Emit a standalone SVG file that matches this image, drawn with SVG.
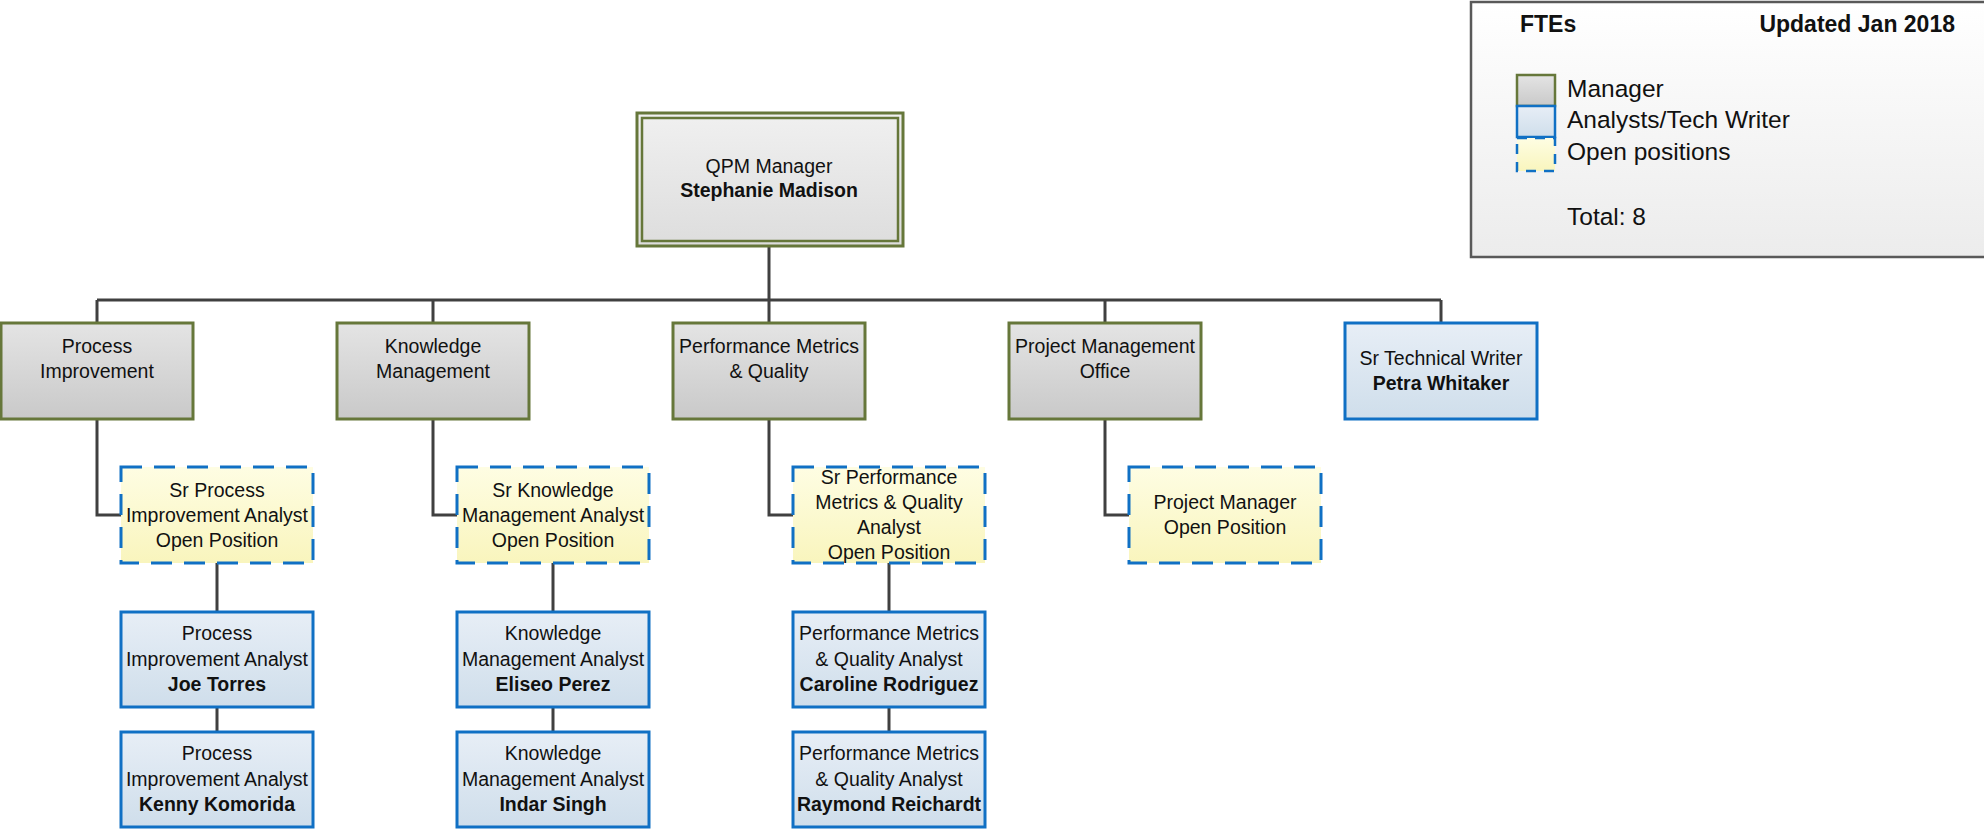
<svg xmlns="http://www.w3.org/2000/svg" width="1984" height="829" viewBox="0 0 1984 829">
<defs>
<linearGradient id="gMgr" x1="0" y1="0" x2="0" y2="1"><stop offset="0" stop-color="#e4e4e4"/><stop offset="1" stop-color="#c9c9c9"/></linearGradient>
<linearGradient id="gTop" x1="0" y1="0" x2="0" y2="1"><stop offset="0" stop-color="#f0f0f0"/><stop offset="1" stop-color="#dddddd"/></linearGradient>
<linearGradient id="gAn" x1="0" y1="0" x2="0" y2="1"><stop offset="0" stop-color="#e7eef6"/><stop offset="1" stop-color="#cfdeeb"/></linearGradient>
<linearGradient id="gOp" x1="0" y1="0" x2="0" y2="1"><stop offset="0" stop-color="#fefde3"/><stop offset="1" stop-color="#f9f5bd"/></linearGradient>
<linearGradient id="gLeg" x1="0" y1="0" x2="0" y2="1"><stop offset="0" stop-color="#ffffff"/><stop offset="1" stop-color="#ececec"/></linearGradient>
</defs>
<style>
text{font-family:"Liberation Sans",Arial,sans-serif;font-size:19.5px;fill:#111;text-anchor:middle}
.b{font-weight:bold}
.mgr{fill:url(#gMgr);stroke:#66773a;stroke-width:3}
.an{fill:url(#gAn);stroke:#1070c4;stroke-width:3}
.op{fill:url(#gOp);stroke:#1070c4;stroke-width:3;stroke-dasharray:21 12}
.con{fill:none;stroke:#404040;stroke-width:3}
.leg{font-size:24.5px;text-anchor:start}
.hd{font-size:23px;font-weight:bold}
</style>

<g id="connectors">
<path class="con" d="M769 246V300M97 300H1441M97 300V323M433 300V323M769 300V323M1105 300V323M1441 300V323"/>
<path class="con" d="M97 419V515H121M433 419V515H457M769 419V515H793M1105 419V515H1129"/>
<path class="con" d="M217 563V612M217 707V732M553 563V612M553 707V732M889 563V612M889 707V732"/>
</g>

<g id="legend">
<rect x="1471" y="2" width="530" height="255" fill="url(#gLeg)" stroke="#595959" stroke-width="2.5"/>
<text class="hd" x="1520" y="32" style="text-anchor:start">FTEs</text>
<text class="hd" x="1955" y="32" style="text-anchor:end">Updated Jan 2018</text>
<rect x="1517" y="75" width="38" height="31" class="mgr" style="stroke-width:2.5"/>
<rect x="1517" y="106" width="38" height="31" class="an" style="stroke-width:2.5"/>
<rect x="1517" y="138" width="38" height="33" class="op" style="stroke-width:2.5;stroke-dasharray:10 8"/>
<text class="leg" x="1567" y="97">Manager</text>
<text class="leg" x="1567" y="128">Analysts/Tech Writer</text>
<text class="leg" x="1567" y="160">Open positions</text>
<text class="leg" x="1567" y="225">Total: 8</text>
</g>

<g id="qpm-manager">
<rect x="637" y="113" width="266" height="133" fill="url(#gTop)" stroke="#66773a" stroke-width="3"/>
<rect x="642" y="118" width="256" height="123" fill="none" stroke="#66773a" stroke-width="2.5"/>
<text x="769" y="173">QPM Manager</text>
<text class="b" x="769" y="197">Stephanie Madison</text>
</g>

<g id="process-improvement">
<rect x="1" y="323" width="192" height="96" class="mgr"/>
<text x="97" y="353">Process</text><text x="97" y="378">Improvement</text>
</g>
<g id="knowledge-management">
<rect x="337" y="323" width="192" height="96" class="mgr"/>
<text x="433" y="353">Knowledge</text><text x="433" y="378">Management</text>
</g>
<g id="performance-metrics">
<rect x="673" y="323" width="192" height="96" class="mgr"/>
<text x="769" y="353">Performance Metrics</text><text x="769" y="378">&amp; Quality</text>
</g>
<g id="pmo">
<rect x="1009" y="323" width="192" height="96" class="mgr"/>
<text x="1105" y="353">Project Management</text><text x="1105" y="378">Office</text>
</g>
<g id="tech-writer">
<rect x="1345" y="323" width="192" height="96" class="an"/>
<text x="1441" y="365">Sr Technical Writer</text><text class="b" x="1441" y="390">Petra Whitaker</text>
</g>

<g id="sr-pi-open">
<rect x="121" y="467" width="192" height="96" class="op"/>
<text x="217" y="497">Sr Process</text><text x="217" y="522">Improvement Analyst</text><text x="217" y="547">Open Position</text>
</g>
<g id="sr-km-open">
<rect x="457" y="467" width="192" height="96" class="op"/>
<text x="553" y="497">Sr Knowledge</text><text x="553" y="522">Management Analyst</text><text x="553" y="547">Open Position</text>
</g>
<g id="sr-pmq-open">
<rect x="793" y="467" width="192" height="96" class="op"/>
<text x="889" y="484">Sr Performance</text><text x="889" y="509">Metrics &amp; Quality</text><text x="889" y="534">Analyst</text><text x="889" y="559">Open Position</text>
</g>
<g id="pm-open">
<rect x="1129" y="467" width="192" height="96" class="op"/>
<text x="1225" y="509">Project Manager</text><text x="1225" y="534">Open Position</text>
</g>

<g id="joe-torres">
<rect x="121" y="612" width="192" height="95" class="an"/>
<text x="217" y="640">Process</text><text x="217" y="666">Improvement Analyst</text><text class="b" x="217" y="691">Joe Torres</text>
</g>
<g id="kenny-komorida">
<rect x="121" y="732" width="192" height="95" class="an"/>
<text x="217" y="760">Process</text><text x="217" y="786">Improvement Analyst</text><text class="b" x="217" y="811">Kenny Komorida</text>
</g>
<g id="eliseo-perez">
<rect x="457" y="612" width="192" height="95" class="an"/>
<text x="553" y="640">Knowledge</text><text x="553" y="666">Management Analyst</text><text class="b" x="553" y="691">Eliseo Perez</text>
</g>
<g id="indar-singh">
<rect x="457" y="732" width="192" height="95" class="an"/>
<text x="553" y="760">Knowledge</text><text x="553" y="786">Management Analyst</text><text class="b" x="553" y="811">Indar Singh</text>
</g>
<g id="caroline-rodriguez">
<rect x="793" y="612" width="192" height="95" class="an"/>
<text x="889" y="640">Performance Metrics</text><text x="889" y="666">&amp; Quality Analyst</text><text class="b" x="889" y="691">Caroline Rodriguez</text>
</g>
<g id="raymond-reichardt">
<rect x="793" y="732" width="192" height="95" class="an"/>
<text x="889" y="760">Performance Metrics</text><text x="889" y="786">&amp; Quality Analyst</text><text class="b" x="889" y="811">Raymond Reichardt</text>
</g>
</svg>
